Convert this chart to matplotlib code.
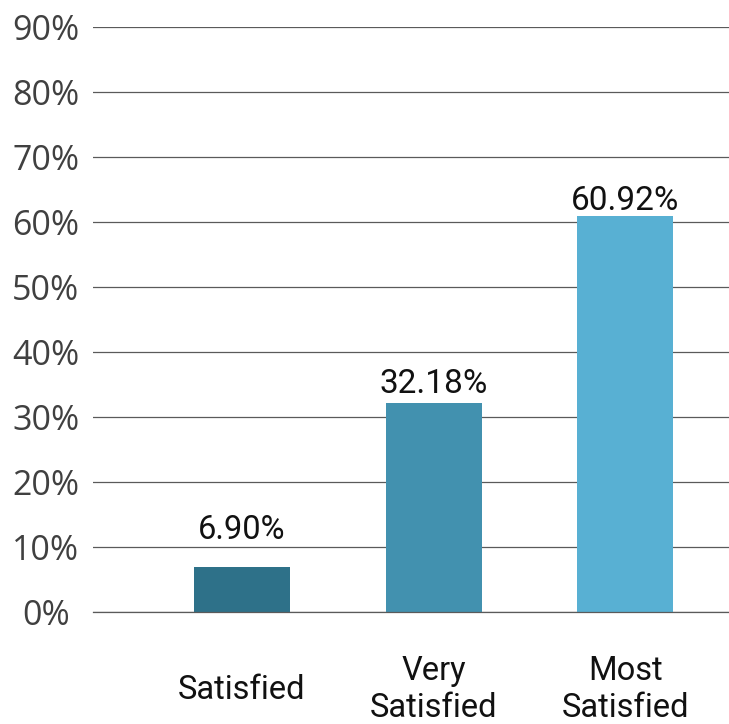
import matplotlib.pyplot as plt

categories = ["Satisfied", "Very\nSatisfied", "Most\nSatisfied"]
values = [6.90, 32.18, 60.92]
value_labels = ["6.90%", "32.18%", "60.92%"]
yticks = [0, 10, 20, 30, 40, 50, 60, 70, 80, 90]

colors = ["#2e7189", "#4291af", "#58b0d3"]
label_offsets = [20, 7, 4]  # points above bar top
label_sizes = [23.5, 24, 24]

fig = plt.figure(figsize=(7.29, 7.24), dpi=100)
ax = fig.add_axes([93 / 729, 112 / 724, 636 / 729, 585 / 724])

x = list(range(len(categories)))
bars = ax.bar(x, values, width=0.5, color=colors, zorder=3)

for xi, v, lab, off, fs in zip(x, values, value_labels, label_offsets, label_sizes):
    ax.annotate(lab, (xi, v), xytext=(0, off), textcoords="offset points",
                ha="center", va="baseline", fontsize=fs, family="Roboto",
                color="#111111")

ax.set_ylim(0, 90)
ax.set_xlim(-0.776, 2.54)
ax.set_yticks(yticks)
ax.set_yticklabels([f"{t}%" for t in yticks], family="Open Sans",
                   fontsize=24.5, color="#404040", ha="center")
ax.set_xticks(x)
ax.set_xticklabels(categories, family="Roboto", fontsize=23.5,
                   color="#111111", va="center", linespacing=1.2)
ax.tick_params(axis="y", length=0, pad=34)
ax.tick_params(axis="x", length=0, pad=56)

ax.grid(axis="y", color="#5a5a5a", linewidth=0.9, zorder=0)
ax.axhline(0, color="#5a5a5a", linewidth=0.9, zorder=4, clip_on=False)
for s in ax.spines.values():
    s.set_visible(False)

fig.savefig("out.png", dpi=100)
